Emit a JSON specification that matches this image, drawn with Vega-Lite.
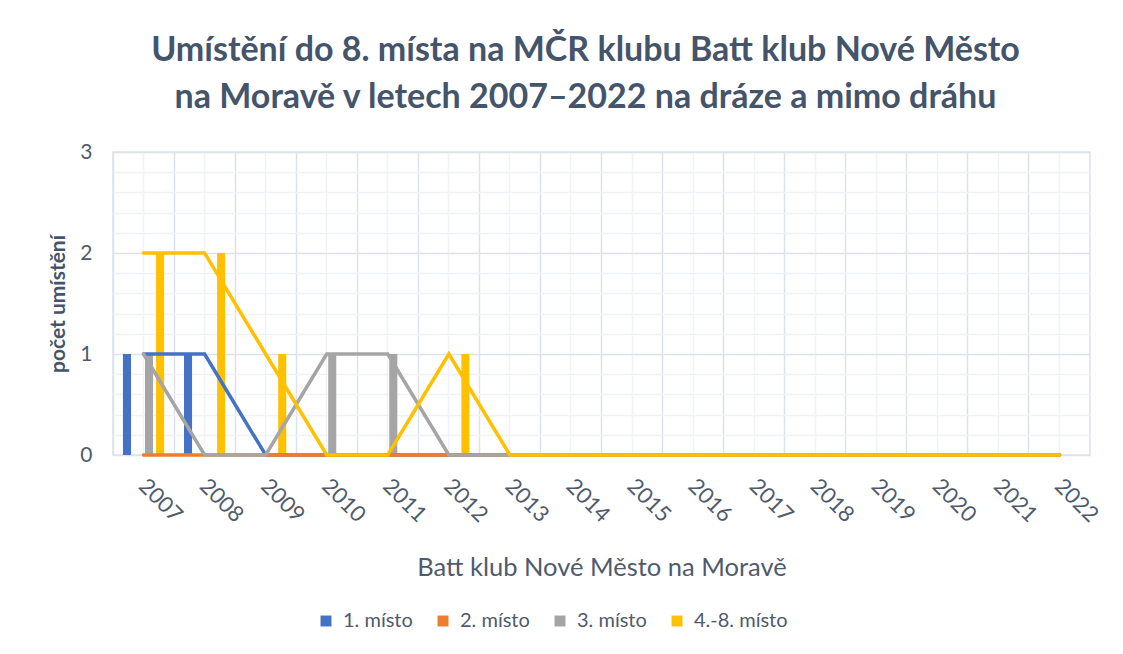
{
  "$schema": "https://vega.github.io/schema/vega-lite/v6.json",
  "width": 977,
  "height": 303,
  "autosize": {"type": "none"},
  "padding": {"left": 113, "top": 152, "right": 33, "bottom": 199},
  "background": "white",
  "config": {
    "font": "Lato",
    "view": {"stroke": "#DDE2EA", "strokeWidth": 1.5}
  },
  "title": {
    "text": ["Umístění do 8. místa na MČR klubu Batt klub Nové Město", "na Moravě v letech 2007–2022 na dráze a mimo dráhu"],
    "font": "Lato",
    "fontSize": 34,
    "fontWeight": "bold",
    "color": "#44546A",
    "lineHeight": 47,
    "offset": 26,
    "dx": -16
  },
  "data": {
    "values": [
      {"year": 2007, "place": "1. místo", "count": 1},
      {"year": 2008, "place": "1. místo", "count": 1},
      {"year": 2009, "place": "1. místo", "count": 0},
      {"year": 2010, "place": "1. místo", "count": 0},
      {"year": 2011, "place": "1. místo", "count": 0},
      {"year": 2012, "place": "1. místo", "count": 0},
      {"year": 2013, "place": "1. místo", "count": 0},
      {"year": 2014, "place": "1. místo", "count": 0},
      {"year": 2015, "place": "1. místo", "count": 0},
      {"year": 2016, "place": "1. místo", "count": 0},
      {"year": 2017, "place": "1. místo", "count": 0},
      {"year": 2018, "place": "1. místo", "count": 0},
      {"year": 2019, "place": "1. místo", "count": 0},
      {"year": 2020, "place": "1. místo", "count": 0},
      {"year": 2021, "place": "1. místo", "count": 0},
      {"year": 2022, "place": "1. místo", "count": 0},
      {"year": 2007, "place": "2. místo", "count": 0},
      {"year": 2008, "place": "2. místo", "count": 0},
      {"year": 2009, "place": "2. místo", "count": 0},
      {"year": 2010, "place": "2. místo", "count": 0},
      {"year": 2011, "place": "2. místo", "count": 0},
      {"year": 2012, "place": "2. místo", "count": 0},
      {"year": 2013, "place": "2. místo", "count": 0},
      {"year": 2014, "place": "2. místo", "count": 0},
      {"year": 2015, "place": "2. místo", "count": 0},
      {"year": 2016, "place": "2. místo", "count": 0},
      {"year": 2017, "place": "2. místo", "count": 0},
      {"year": 2018, "place": "2. místo", "count": 0},
      {"year": 2019, "place": "2. místo", "count": 0},
      {"year": 2020, "place": "2. místo", "count": 0},
      {"year": 2021, "place": "2. místo", "count": 0},
      {"year": 2022, "place": "2. místo", "count": 0},
      {"year": 2007, "place": "3. místo", "count": 1},
      {"year": 2008, "place": "3. místo", "count": 0},
      {"year": 2009, "place": "3. místo", "count": 0},
      {"year": 2010, "place": "3. místo", "count": 1},
      {"year": 2011, "place": "3. místo", "count": 1},
      {"year": 2012, "place": "3. místo", "count": 0},
      {"year": 2013, "place": "3. místo", "count": 0},
      {"year": 2014, "place": "3. místo", "count": 0},
      {"year": 2015, "place": "3. místo", "count": 0},
      {"year": 2016, "place": "3. místo", "count": 0},
      {"year": 2017, "place": "3. místo", "count": 0},
      {"year": 2018, "place": "3. místo", "count": 0},
      {"year": 2019, "place": "3. místo", "count": 0},
      {"year": 2020, "place": "3. místo", "count": 0},
      {"year": 2021, "place": "3. místo", "count": 0},
      {"year": 2022, "place": "3. místo", "count": 0},
      {"year": 2007, "place": "4.-8. místo", "count": 2},
      {"year": 2008, "place": "4.-8. místo", "count": 2},
      {"year": 2009, "place": "4.-8. místo", "count": 1},
      {"year": 2010, "place": "4.-8. místo", "count": 0},
      {"year": 2011, "place": "4.-8. místo", "count": 0},
      {"year": 2012, "place": "4.-8. místo", "count": 1},
      {"year": 2013, "place": "4.-8. místo", "count": 0},
      {"year": 2014, "place": "4.-8. místo", "count": 0},
      {"year": 2015, "place": "4.-8. místo", "count": 0},
      {"year": 2016, "place": "4.-8. místo", "count": 0},
      {"year": 2017, "place": "4.-8. místo", "count": 0},
      {"year": 2018, "place": "4.-8. místo", "count": 0},
      {"year": 2019, "place": "4.-8. místo", "count": 0},
      {"year": 2020, "place": "4.-8. místo", "count": 0},
      {"year": 2021, "place": "4.-8. místo", "count": 0},
      {"year": 2022, "place": "4.-8. místo", "count": 0}
    ]
  },
  "encoding": {
    "y": {
      "field": "count",
      "type": "quantitative",
      "scale": {"domain": [0, 3], "nice": false},
      "axis": {
        "values": [0, 0.2, 0.4, 0.6, 0.8, 1, 1.2, 1.4, 1.6, 1.8, 2, 2.2, 2.4, 2.6, 2.8, 3],
        "labelExpr": "datum.value % 1 === 0 ? '' + datum.value : ''",
        "gridColor": {"condition": {"test": "datum.value % 1 === 0", "value": "#DDE2EA"}, "value": "#F0F2F5"},
        "gridWidth": 1.5,
        "domain": false,
        "ticks": false,
        "labelFontSize": 21,
        "labelColor": "#4F5B6C",
        "labelPadding": 21,
        "title": "počet umístění",
        "titleFontSize": 21,
        "titleFontWeight": "bold",
        "titleColor": "#44546A",
        "titlePadding": 11
      }
    }
  },
  "layer": [
    {
      "mark": {"type": "bar"},
      "encoding": {
        "x": {
          "field": "year",
          "type": "ordinal",
          "scale": {"paddingInner": 0, "paddingOuter": 0},
          "axis": {
            "bandPosition": 0,
            "grid": true,
            "gridColor": "#DDE2EA",
            "gridWidth": 1.5,
            "domain": false,
            "ticks": false,
            "labelAngle": 45,
            "labelFontSize": 22,
            "labelColor": "#4F5B6C",
            "labelPadding": 20,
            "labelOffset": 6,
            "title": "Batt klub Nové Město na Moravě",
            "titleFontSize": 25.5,
            "titleFontWeight": "normal",
            "titleColor": "#4F5B6C",
            "titlePadding": 30
          }
        },
        "xOffset": {
          "field": "place",
          "type": "nominal",
          "scale": {"domain": ["1. místo", "2. místo", "3. místo", "4.-8. místo"], "paddingInner": 0.27, "paddingOuter": 0.9}
        },
        "color": {
          "field": "place",
          "type": "nominal",
          "scale": {
            "domain": ["1. místo", "2. místo", "3. místo", "4.-8. místo"],
            "range": ["#4472C4", "#ED7D31", "#A5A5A5", "#FFC000"]
          },
          "legend": {
            "orient": "none",
            "legendX": 203,
            "legendY": 459,
            "direction": "horizontal",
            "title": null,
            "symbolType": "square",
            "symbolSize": 120,
            "labelFontSize": 20,
            "labelColor": "#4F5B6C",
            "columnPadding": 20,
            "labelOffset": 7,
            "encode": {
              "symbols": {
                "update": {
                  "shape": {"value": "M-1,-1H1V1H-1Z"},
                  "size": {"value": 120},
                  "fill": {"scale": "color", "field": "value"},
                  "fillOpacity": {"value": 1},
                  "opacity": {"value": 1},
                  "stroke": {"value": "transparent"},
                  "strokeWidth": {"value": 0}
                }
              }
            }
          }
        }
      }
    },
    {
      "mark": {"type": "line", "strokeWidth": 3.5, "strokeCap": "round"},
      "encoding": {
        "x": {
          "field": "year",
          "type": "ordinal",
          "axis": {
            "bandPosition": 0.5,
            "grid": true,
            "gridColor": "#F0F2F5",
            "gridWidth": 1.5,
            "domain": false,
            "ticks": false,
            "labels": false,
            "title": null
          }
        },
        "color": {
          "field": "place",
          "type": "nominal"
        }
      }
    }
  ],
  "resolve": {"axis": {"x": "independent"}}
}
